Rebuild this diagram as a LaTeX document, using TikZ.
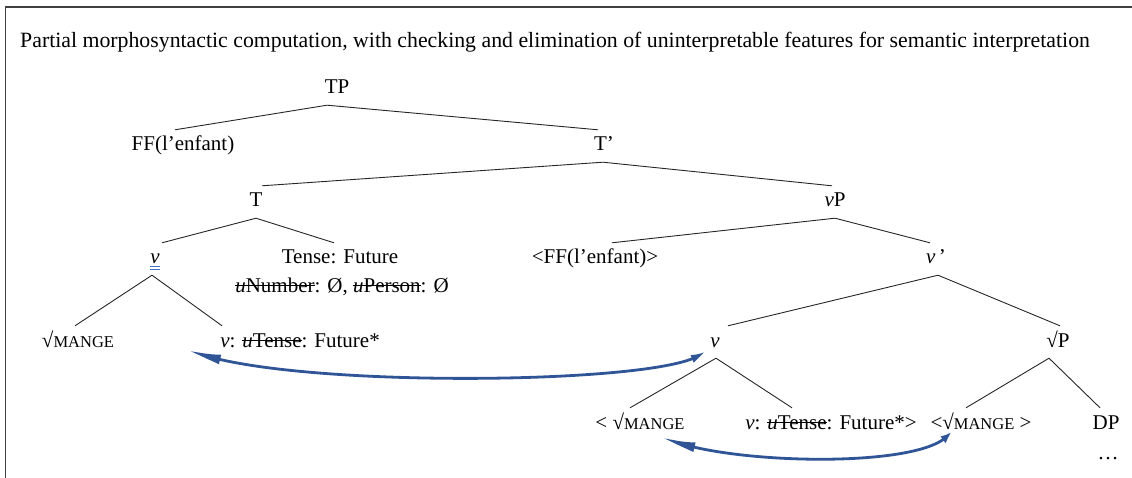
\documentclass[tikz,border=0pt]{standalone}
\usepackage{fontspec}
\setmainfont{Liberation Serif}
\usetikzlibrary{arrows.meta,calc,bending}
\definecolor{arrowblue}{RGB}{47,85,151}
\definecolor{ulblue}{RGB}{68,114,196}
\newcommand{\strk}[1]{\setbox0\hbox{#1}\rlap{\rule[0.27em]{\wd0}{0.055em}}\box0}
\newcommand{\smc}[1]{{\fontsize{16.5}{18}\selectfont #1}}
\begin{document}
\begin{tikzpicture}[x=1pt,y=-1pt,
  lbl/.style={inner xsep=0pt, inner ysep=7pt, font=\fontsize{21}{25}\selectfont, text height=14pt, text depth=4pt, anchor=base},
  edge/.style={line width=0.9pt, draw=black!85},
  mv/.style={draw=arrowblue, line width=2.8pt, {Latex[length=10pt,width=9pt,bend]}-{Latex[length=28pt,width=10pt,bend]}},
  frame/.style={line width=1.5pt, draw=black!75}]
\useasboundingbox (0,0) rectangle (1132,478);
\draw[frame] (1132,7) -- (5.5,7) -- (5.5,478);
\node[lbl, anchor=base west, font=\fontsize{21.8}{25}\selectfont] (title) at (20,48) {Partial morphosyntactic computation, with checking and elimination of uninterpretable features for semantic interpretation};
% nodes
\node[lbl] (TP) at (337,94) {TP};
\node[lbl] (FF) at (183,151) {FF(l’enfant)};
\node[lbl] (Tbar) at (604,151) {T’};
\node[lbl] (T) at (256,207) {T};
\node[lbl] (vP) at (835,207) {\textit{v}P};
\node[lbl] (vu) at (155,264) {\textit{v}};
\node[lbl] (Tense) at (340,264) {Tense: Future};
\node[lbl] (feat) at (342,292) {\strk{\textit{u}Number}: Ø, \strk{\textit{u}Person}: Ø};
\node[lbl] (FFt) at (595,264) {<FF(l’enfant)>};
\node[lbl] (vbar) at (936,264) {\textit{v}\,’};
\node[lbl] (root) at (78,347) {√\smc{MANGE}};
\node[lbl] (vfeat) at (300,347) {\textit{v}: \strk{\textit{u}Tense}: Future*};
\node[lbl] (vlow) at (715,347) {\textit{v}};
\node[lbl] (sP) at (1058,347) {√P};
\node[lbl] (tr1) at (640,429) {< √\smc{MANGE}};
\node[lbl] (vfeat2) at (831,429) {\textit{v}: \strk{\textit{u}Tense}: Future*>};
\node[lbl] (tr2) at (981,429) {<√\smc{MANGE} >};
\node[lbl] (DP) at (1106,429) {DP};
\node[lbl] (dots) at (1108,459) {…};
% underline of v
\draw[ulblue, line width=0.8pt] ($(vu.base)+(-5,2.5)$) -- ($(vu.base)+(5,2.5)$);
\draw[ulblue, line width=0.8pt] ($(vu.base)+(-5,5)$) -- ($(vu.base)+(5,5)$);
% edges
\draw[edge] ([xshift=-10pt]TP.south) -- ([xshift=-8pt]FF.north);
\draw[edge] ([xshift=-10pt]TP.south) -- ([xshift=-6pt]Tbar.north);
\draw[edge] ([xshift=-1pt]Tbar.south) -- ([xshift=6pt]T.north);
\draw[edge] ([xshift=-1pt]Tbar.south) -- ([xshift=-3pt]vP.north);
\draw[edge] (T.south) -- ([xshift=7pt]vu.north);
\draw[edge] (T.south) -- ([xshift=-6pt]Tense.north);
\draw[edge] (vP.south) -- ([xshift=17pt]FFt.north);
\draw[edge] (vP.south) -- ([xshift=-6pt]vbar.north);
\draw[edge] ([xshift=2pt]vbar.south) -- ([xshift=13pt]vlow.north);
\draw[edge] ([xshift=2pt]vbar.south) -- ([xshift=2pt]sP.north);
\draw[edge] ([xshift=-3pt]vu.south) -- ([xshift=-3pt]root.north);
\draw[edge] ([xshift=-3pt]vu.south) -- ([xshift=2pt]vfeat.north west);
\draw[edge] ([xshift=1pt]vlow.south) -- ([xshift=-10pt]tr1.north);
\draw[edge] ([xshift=1pt]vlow.south) -- ([xshift=-39pt]vfeat2.north);
\draw[edge] ([xshift=-9pt]sP.south) -- ([xshift=-15pt]tr2.north);
\draw[edge] ([xshift=-9pt]sP.south) -- ([xshift=-6pt]DP.north);
% movement arrows
\draw[mv] ($(vlow.base)+(-12,5)$) .. controls ($(vlow.base)+(-35,38)$) and ($(vfeat.base west)+(62,43)$) .. ($(vfeat.base west)+(-31,3)$);
\draw[mv] ($(tr2.base west)+(20,3)$) .. controls ($(tr2.base west)+(0,41)$) and ($(tr1.base)+(80,36)$) .. ($(tr1.base)+(23,8)$);
\end{tikzpicture}
\end{document}
